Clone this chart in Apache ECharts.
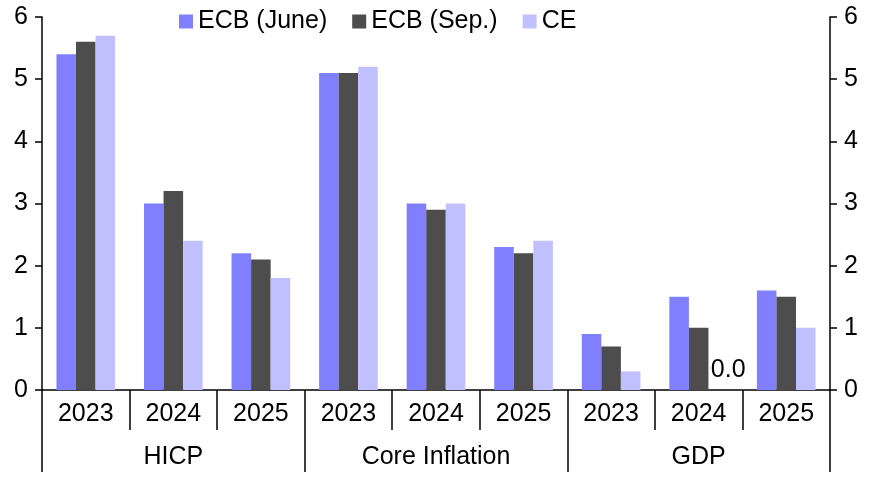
<!DOCTYPE html>
<html>
<head>
<meta charset="utf-8">
<script src="https://cdn.jsdelivr.net/npm/echarts@6/dist/echarts.min.js"></script>
<style>html,body{margin:0;padding:0;background:#fff}#c{width:869px;height:480px}</style>
</head>
<body>
<div id="c"></div>
<script>
var years = ['2023','2024','2025','2023','2024','2025','2023','2024','2025'];
var groups = ['HICP','Core Inflation','GDP'];
var ecbJune = [5.4, 3.0, 2.2, 5.1, 3.0, 2.3, 0.9, 1.5, 1.6];
var ecbSep  = [5.6, 3.2, 2.1, 5.1, 2.9, 2.2, 0.7, 1.0, 1.5];
var ce      = [5.7, 2.4, 1.8, 5.2, 3.0, 2.4, 0.3, 0.0, 1.0];
var yTicks  = [0, 1, 2, 3, 4, 5, 6];

var FONT = 'Liberation Sans';
var FS = 25;
var chart = echarts.init(document.getElementById('c'));
var axisLine = {show: true, lineStyle: {color: '#000', width: 1.5}};
chart.setOption({
  animation: false,
  textStyle: {fontFamily: FONT},
  legend: {
    top: 4, left: 174, icon: 'rect',
    itemWidth: 14, itemHeight: 14, itemGap: 25,
    textStyle: {fontFamily: FONT, fontSize: FS, color: '#000'},
    data: ['ECB (June)', 'ECB (Sep.)', 'CE']
  },
  grid: {left: 42, right: 39, top: 17, bottom: 90, containLabel: false},
  xAxis: [
    {type: 'category', data: years, position: 'bottom',
     axisLine: axisLine,
     axisTick: {show: true, length: 40, lineStyle: {color: '#000', width: 1.5}},
     axisLabel: {margin: 12, fontFamily: FONT, fontSize: FS, color: '#000'}},
    {type: 'category', data: groups, position: 'bottom',
     axisLine: {show: false},
     axisTick: {show: true, length: 82, lineStyle: {color: '#000', width: 1.5}},
     axisLabel: {margin: 55, fontFamily: FONT, fontSize: FS, color: '#000'}}
  ],
  yAxis: [
    {type: 'value', min: 0, max: 6, interval: 1, position: 'left',
     axisLine: axisLine,
     axisTick: {show: true, length: 7, lineStyle: {color: '#000', width: 1.5}},
     splitLine: {show: false},
     axisLabel: {margin: 14, fontFamily: FONT, fontSize: FS, color: '#000',
       formatter: function(v){ return yTicks.indexOf(v) >= 0 ? String(v) : ''; }}},
    {type: 'value', min: 0, max: 6, interval: 1, position: 'right',
     axisLine: axisLine,
     axisTick: {show: true, length: 7, lineStyle: {color: '#000', width: 1.5}},
     splitLine: {show: false},
     axisLabel: {margin: 14, fontFamily: FONT, fontSize: FS, color: '#000',
       formatter: function(v){ return yTicks.indexOf(v) >= 0 ? String(v) : ''; }}}
  ],
  series: [
    {name: 'ECB (June)', type: 'bar', data: ecbJune, barGap: '0%', barCategoryGap: '33%',
     itemStyle: {color: '#8080ff'}},
    {name: 'ECB (Sep.)', type: 'bar', data: ecbSep, barGap: '0%', barCategoryGap: '33%',
     itemStyle: {color: '#4d4d4d'}},
    {name: 'CE', type: 'bar', data: ce, barGap: '0%', barCategoryGap: '33%',
     itemStyle: {color: '#c0c0ff'},
     label: {show: true, position: 'top', distance: 7, offset: [10, 0], fontFamily: FONT, fontSize: FS, color: '#000',
       formatter: function(p){ return p.value === 0 ? p.value.toFixed(1) : ''; }}}
  ]
});
</script>
</body>
</html>
